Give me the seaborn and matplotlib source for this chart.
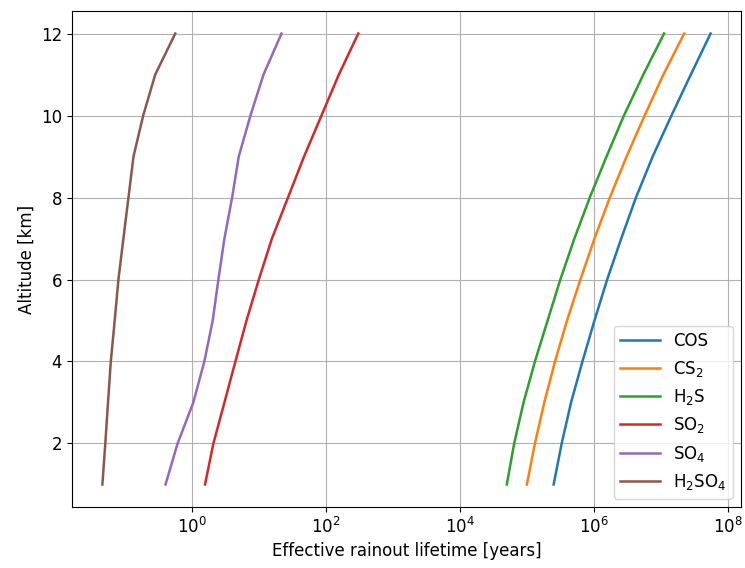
import numpy as np
import pandas as pd
import matplotlib
matplotlib.use("Agg")
import matplotlib.pyplot as plt
from matplotlib.ticker import NullLocator
import seaborn as sns

# Altitude levels [km]
altitude = [1, 2, 3, 4, 5, 6, 7, 8, 9, 10, 11, 12]

# log10 of effective rainout lifetime [years] at each altitude
log_cos = [5.40, 5.52, 5.66, 5.83, 6.01, 6.20, 6.41, 6.63, 6.88, 7.16, 7.45, 7.745]
log_cs2 = [5.00, 5.12, 5.26, 5.42, 5.60, 5.80, 6.01, 6.24, 6.49, 6.76, 7.04, 7.35]
log_h2s = [4.70, 4.81, 4.95, 5.12, 5.31, 5.50, 5.71, 5.94, 6.19, 6.45, 6.74, 7.05]
log_so2 = [0.19, 0.315, 0.48, 0.644, 0.81, 0.994, 1.19, 1.43, 1.67, 1.93, 2.19, 2.48]
log_so4 = [-0.40, -0.22, 0.015, 0.18, 0.305, 0.39, 0.48, 0.595, 0.694, 0.869, 1.064, 1.333]
log_h2so4 = [-1.344, -1.30, -1.26, -1.218, -1.16, -1.104, -1.03, -0.954, -0.879, -0.734, -0.554, -0.255]

species = ["COS", "CS$_2$", "H$_2$S", "SO$_2$", "SO$_4$", "H$_2$SO$_4$"]
series = [log_cos, log_cs2, log_h2s, log_so2, log_so4, log_h2so4]

frames = []
for name, vals in zip(species, series):
    frames.append(pd.DataFrame({
        "species": name,
        "altitude": altitude,
        "lifetime": 10.0 ** np.array(vals),
    }))
df = pd.concat(frames, ignore_index=True)

plt.rcParams["font.size"] = 12

fig, ax = plt.subplots(figsize=(7.45, 5.68), dpi=100)
fig.subplots_adjust(left=0.0966, right=0.9946, top=0.9806, bottom=0.1074)

sns.lineplot(data=df, x="lifetime", y="altitude", hue="species",
             palette=sns.color_palette("tab10", 6), sort=False,
             estimator=None, linewidth=1.8, ax=ax)

ax.set_xscale("log")
ax.xaxis.set_minor_locator(NullLocator())
ax.set_xlabel("Effective rainout lifetime [years]")
ax.set_ylabel("Altitude [km]")
ax.grid(True)
ax.legend(loc="lower right", title=None, handlelength=2.35)

fig.savefig("out.png", dpi=100)
